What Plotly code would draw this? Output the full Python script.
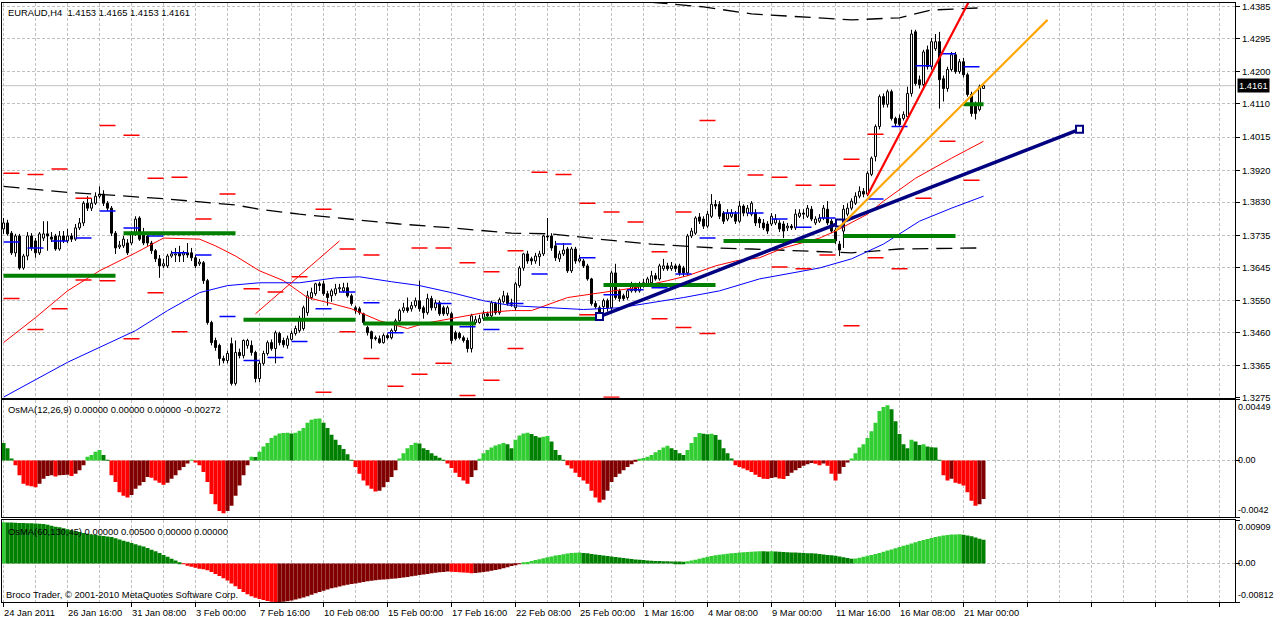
import plotly.graph_objects as go

# ---------------- price data (EURAUD H4), bar index 0 = 24 Jan 2011 00:00 ----------------
OPEN = [
1.3754,1.3771,1.3742,1.3686,1.3734,1.3643,1.3677,1.3734,1.3720,1.3686,
1.3728,1.3740,1.3731,1.3734,1.3697,1.3734,1.3720,1.3734,1.3725,1.3757,
1.3771,1.3827,1.3813,1.3827,1.3847,1.3853,1.3827,1.3813,1.3742,1.3703,
1.3706,1.3714,1.3714,1.3740,1.3785,1.3740,1.3734,1.3714,1.3692,1.3669,
1.3649,1.3649,1.3677,1.3680,1.3686,1.3680,1.3686,1.3686,1.3672,1.3655,
1.3658,1.3607,1.3488,1.3437,1.3423,1.3386,1.3380,1.3428,1.3315,1.3403,
1.3394,1.3423,1.3423,1.3403,1.3329,1.3372,1.3400,1.3431,1.3414,1.3457,
1.3437,1.3423,1.3440,1.3457,1.3465,1.3471,1.3516,1.3559,1.3570,1.3598,
1.3598,1.3570,1.3564,1.3570,1.3584,1.3578,1.3587,1.3564,1.3530,1.3527,
1.3513,1.3474,1.3462,1.3445,1.3442,1.3431,1.3451,1.3445,1.3465,1.3493,
1.3522,1.3530,1.3527,1.3536,1.3550,1.3530,1.3516,1.3556,1.3530,1.3544,
1.3530,1.3513,1.3513,1.3459,1.3457,1.3445,1.3437,1.3414,1.3488,1.3488,
1.3499,1.3513,1.3507,1.3542,1.3516,1.3547,1.3564,1.3544,1.3530,1.3593,
1.3643,1.3683,1.3669,1.3663,1.3675,1.3683,1.3734,1.3734,1.3706,1.3669,
1.3683,1.3697,1.3635,1.3697,1.3663,1.3663,1.3649,1.3612,1.3542,1.3530,
1.3533,1.3550,1.3530,1.3629,1.3578,1.3564,1.3559,1.3578,1.3593,1.3578,
1.3593,1.3598,1.3601,1.3621,1.3612,1.3641,1.3649,1.3641,1.3649,1.3649,
1.3643,1.3629,1.3734,1.3742,1.3788,1.3782,1.3762,1.3790,1.3824,1.3824,
1.3799,1.3782,1.3790,1.3796,1.3776,1.3819,1.3799,1.3796,1.3799,1.3782,
1.3771,1.3768,1.3768,1.3771,1.3771,1.3768,1.3757,1.3762,1.3757,1.3790,
1.3799,1.3790,1.3810,1.3771,1.3776,1.3785,1.3810,1.3776,1.3751,1.3711,
1.3748,1.3796,1.3813,1.3827,1.3847,1.3861,1.3853,1.3909,1.3960,1.4045,
1.4130,1.4108,1.4144,1.4068,1.4068,1.4068,1.4073,1.4139,1.4314,1.4178,
1.4164,1.4263,1.4215,1.4266,1.4286,1.4181,1.4153,1.4207,1.4249,1.4201,
1.4229,1.4192,1.4136,1.4108,1.4093,1.4153]
HIGH = [
1.3785,1.3780,1.3748,1.3740,1.3740,1.3683,1.3745,1.3742,1.3728,1.3745,
1.3776,1.3776,1.3745,1.3740,1.3748,1.3748,1.3754,1.3742,1.3768,1.3785,
1.3833,1.3847,1.3841,1.3858,1.3875,1.3864,1.3833,1.3819,1.3748,1.3720,
1.3734,1.3725,1.3748,1.3790,1.3790,1.3757,1.3740,1.3720,1.3697,1.3680,
1.3669,1.3683,1.3692,1.3700,1.3706,1.3692,1.3714,1.3700,1.3680,1.3669,
1.3663,1.3612,1.3493,1.3445,1.3428,1.3394,1.3408,1.3445,1.3437,1.3414,
1.3440,1.3442,1.3437,1.3408,1.3380,1.3408,1.3437,1.3440,1.3465,1.3462,
1.3445,1.3451,1.3465,1.3479,1.3507,1.3536,1.3578,1.3587,1.3601,1.3604,
1.3607,1.3578,1.3584,1.3598,1.3598,1.3601,1.3601,1.3570,1.3536,1.3533,
1.3516,1.3479,1.3465,1.3451,1.3451,1.3457,1.3457,1.3471,1.3499,1.3527,
1.3544,1.3559,1.3547,1.3559,1.3607,1.3536,1.3570,1.3564,1.3553,1.3550,
1.3536,1.3536,1.3519,1.3465,1.3462,1.3451,1.3445,1.3513,1.3507,1.3510,
1.3522,1.3519,1.3550,1.3547,1.3559,1.3578,1.3573,1.3556,1.3604,1.3649,
1.3686,1.3692,1.3675,1.3686,1.3692,1.3737,1.3785,1.3742,1.3720,1.3692,
1.3714,1.3703,1.3703,1.3703,1.3680,1.3669,1.3655,1.3615,1.3550,1.3536,
1.3556,1.3556,1.3635,1.3655,1.3584,1.3570,1.3584,1.3604,1.3601,1.3604,
1.3612,1.3618,1.3635,1.3629,1.3655,1.3669,1.3658,1.3660,1.3655,1.3655,
1.3649,1.3740,1.3757,1.3790,1.3799,1.3790,1.3805,1.3853,1.3836,1.3833,
1.3805,1.3810,1.3810,1.3805,1.3833,1.3824,1.3822,1.3833,1.3810,1.3788,
1.3782,1.3776,1.3799,1.3796,1.3779,1.3776,1.3771,1.3768,1.3810,1.3810,
1.3810,1.3822,1.3819,1.3790,1.3796,1.3822,1.3833,1.3782,1.3757,1.3720,
1.3822,1.3827,1.3841,1.3858,1.3875,1.3870,1.3918,1.3960,1.4051,1.4136,
1.4139,1.4150,1.4150,1.4073,1.4079,1.4088,1.4158,1.4320,1.4320,1.4190,
1.4263,1.4275,1.4297,1.4308,1.4314,1.4190,1.4215,1.4257,1.4257,1.4237,
1.4240,1.4198,1.4144,1.4116,1.4164,1.4165]
LOW = [
1.3740,1.3735,1.3680,1.3675,1.3638,1.3638,1.3665,1.3692,1.3672,1.3680,
1.3720,1.3692,1.3717,1.3692,1.3692,1.3714,1.3714,1.3717,1.3720,1.3751,
1.3762,1.3805,1.3805,1.3822,1.3841,1.3819,1.3805,1.3734,1.3683,1.3697,
1.3700,1.3680,1.3708,1.3734,1.3720,1.3708,1.3706,1.3683,1.3660,1.3615,
1.3643,1.3643,1.3672,1.3660,1.3660,1.3660,1.3672,1.3663,1.3643,1.3649,
1.3598,1.3482,1.3423,1.3408,1.3366,1.3372,1.3372,1.3309,1.3309,1.3386,
1.3386,1.3414,1.3394,1.3318,1.3318,1.3366,1.3394,1.3408,1.3372,1.3423,
1.3417,1.3414,1.3437,1.3451,1.3459,1.3465,1.3507,1.3553,1.3564,1.3578,
1.3564,1.3536,1.3547,1.3564,1.3573,1.3573,1.3559,1.3536,1.3513,1.3510,
1.3482,1.3451,1.3414,1.3437,1.3428,1.3428,1.3440,1.3440,1.3459,1.3488,
1.3516,1.3516,1.3519,1.3530,1.3519,1.3499,1.3510,1.3522,1.3522,1.3507,
1.3507,1.3507,1.3428,1.3437,1.3440,1.3431,1.3403,1.3403,1.3482,1.3485,
1.3493,1.3499,1.3502,1.3510,1.3510,1.3542,1.3536,1.3533,1.3522,1.3587,
1.3635,1.3655,1.3652,1.3655,1.3649,1.3677,1.3720,1.3692,1.3663,1.3660,
1.3677,1.3629,1.3629,1.3655,1.3658,1.3643,1.3607,1.3536,1.3527,1.3499,
1.3507,1.3519,1.3522,1.3553,1.3547,1.3550,1.3553,1.3573,1.3573,1.3573,
1.3587,1.3593,1.3596,1.3607,1.3607,1.3635,1.3635,1.3635,1.3632,1.3621,
1.3618,1.3621,1.3728,1.3737,1.3768,1.3754,1.3757,1.3785,1.3810,1.3782,
1.3768,1.3776,1.3785,1.3768,1.3771,1.3790,1.3790,1.3790,1.3762,1.3757,
1.3751,1.3740,1.3762,1.3765,1.3745,1.3728,1.3748,1.3751,1.3751,1.3785,
1.3782,1.3785,1.3776,1.3765,1.3771,1.3779,1.3765,1.3742,1.3711,1.3677,
1.3700,1.3790,1.3807,1.3822,1.3841,1.3844,1.3847,1.3904,1.3946,1.4037,
1.4099,1.4099,1.4062,1.4045,1.4045,1.4062,1.4068,1.4130,1.4161,1.4153,
1.4158,1.4207,1.4207,1.4260,1.4096,1.4116,1.4144,1.4201,1.4195,1.4195,
1.4184,1.4130,1.4073,1.4065,1.4088,1.4153]
CLOSE = [
1.3771,1.3740,1.3686,1.3734,1.3643,1.3677,1.3734,1.3700,1.3686,1.3740,
1.3740,1.3734,1.3725,1.3697,1.3734,1.3720,1.3734,1.3725,1.3757,1.3771,
1.3827,1.3813,1.3827,1.3847,1.3853,1.3827,1.3813,1.3742,1.3700,1.3708,
1.3725,1.3686,1.3740,1.3782,1.3725,1.3714,1.3714,1.3692,1.3669,1.3649,
1.3655,1.3677,1.3683,1.3683,1.3677,1.3686,1.3680,1.3672,1.3649,1.3660,
1.3607,1.3488,1.3431,1.3417,1.3386,1.3380,1.3400,1.3315,1.3403,1.3394,
1.3437,1.3437,1.3403,1.3329,1.3372,1.3400,1.3431,1.3414,1.3459,1.3431,
1.3425,1.3442,1.3457,1.3471,1.3499,1.3530,1.3564,1.3573,1.3598,1.3593,
1.3570,1.3559,1.3578,1.3584,1.3587,1.3587,1.3564,1.3542,1.3522,1.3516,
1.3488,1.3459,1.3442,1.3442,1.3431,1.3451,1.3445,1.3465,1.3493,1.3522,
1.3530,1.3522,1.3536,1.3550,1.3527,1.3516,1.3556,1.3530,1.3544,1.3513,
1.3513,1.3530,1.3437,1.3442,1.3445,1.3437,1.3414,1.3507,1.3496,1.3499,
1.3513,1.3507,1.3544,1.3516,1.3553,1.3564,1.3542,1.3540,1.3598,1.3643,
1.3683,1.3663,1.3663,1.3677,1.3683,1.3734,1.3731,1.3700,1.3672,1.3683,
1.3694,1.3635,1.3697,1.3663,1.3669,1.3649,1.3612,1.3542,1.3533,1.3507,
1.3550,1.3530,1.3629,1.3559,1.3556,1.3556,1.3578,1.3593,1.3578,1.3598,
1.3601,1.3612,1.3621,1.3612,1.3649,1.3649,1.3641,1.3649,1.3641,1.3629,
1.3629,1.3734,1.3748,1.3785,1.3776,1.3762,1.3796,1.3824,1.3819,1.3790,
1.3776,1.3799,1.3799,1.3776,1.3819,1.3799,1.3813,1.3827,1.3771,1.3771,
1.3757,1.3748,1.3790,1.3782,1.3754,1.3748,1.3762,1.3757,1.3796,1.3799,
1.3796,1.3813,1.3782,1.3782,1.3785,1.3813,1.3771,1.3748,1.3720,1.3694,
1.3810,1.3813,1.3833,1.3847,1.3861,1.3853,1.3912,1.3955,1.4045,1.4130,
1.4108,1.4144,1.4068,1.4054,1.4051,1.4079,1.4139,1.4308,1.4167,1.4164,
1.4257,1.4215,1.4286,1.4286,1.4178,1.4153,1.4207,1.4249,1.4201,1.4229,
1.4192,1.4136,1.4082,1.4082,1.4158,1.4161]

# ---------------- axis labels ----------------
DATE_TICK_BARS = [0, 16, 32, 48, 64, 80, 96, 112, 128, 144, 160, 176, 192, 208, 224, 240]
DATE_LABELS = ["24 Jan 2011", "26 Jan 16:00", "31 Jan 08:00", "3 Feb 00:00", "7 Feb 16:00",
               "10 Feb 08:00", "15 Feb 00:00", "17 Feb 16:00", "22 Feb 08:00", "25 Feb 00:00",
               "1 Mar 16:00", "4 Mar 08:00", "9 Mar 00:00", "11 Mar 16:00", "16 Mar 08:00",
               "21 Mar 00:00"]
PRICE_TICKS = [1.4385, 1.4295, 1.4200, 1.4110, 1.4015, 1.3920, 1.3830, 1.3735,
               1.3645, 1.3550, 1.3460, 1.3365, 1.3275]
LAST_PRICE = 1.4161

# ---------------- moving averages / envelope (read at sample bars) ----------------
RED_MA_BARS = [0, 8, 16, 24, 33, 40, 49, 53, 58, 64, 70, 76, 82, 87, 94, 101, 105, 112, 120,
               127, 132, 141, 149, 158, 166, 171, 178, 183, 189, 195, 204, 208, 216, 220, 228, 237, 245]
RED_MA = [1.3431, 1.3502, 1.3578, 1.3635, 1.3686, 1.3728, 1.3725, 1.3706, 1.3677, 1.3635,
          1.3607, 1.3559, 1.3542, 1.3527, 1.3493, 1.3471, 1.3485, 1.3499, 1.3516, 1.3522,
          1.3522, 1.3559, 1.3573, 1.3587, 1.3607, 1.3621, 1.3649, 1.3663, 1.3672, 1.3700,
          1.3728, 1.3748, 1.3796, 1.3833, 1.3898, 1.3955, 1.4003]
BLUE_MA_BARS = [0, 16, 33, 41, 49, 56, 64, 74, 83, 89, 97, 104, 112, 120, 127, 137, 145, 154,
                162, 170, 179, 189, 204, 212, 220, 229, 237, 245]
BLUE_MA = [1.3276, 1.3375, 1.3465, 1.3522, 1.3573, 1.3593, 1.3601, 1.3601, 1.3615, 1.3618,
           1.3604, 1.3593, 1.3573, 1.3550, 1.3536, 1.3530, 1.3525, 1.3530, 1.3544, 1.3559,
           1.3578, 1.3612, 1.3643, 1.3669, 1.3711, 1.3776, 1.3813, 1.3847]
ENV_LOW_BARS = [0, 16, 27, 41, 58, 64, 74, 87, 99, 112, 127, 137, 149, 162, 178, 187, 212, 224, 244]
ENV_LOW = [1.3875, 1.3858, 1.3850, 1.3839, 1.3822, 1.3810, 1.3796, 1.3782, 1.3768, 1.3757,
           1.3742, 1.3740, 1.3725, 1.3711, 1.3700, 1.3697, 1.3686, 1.3697, 1.3700]
ENV_HIGH_BARS = [162, 175, 187, 199, 212, 224, 232, 244]
ENV_HIGH = [1.4398, 1.4385, 1.4365, 1.4357, 1.4348, 1.4354, 1.4376, 1.4382]

# ---------------- daily pivot levels (one per trading day) ----------------
DAY_R = [1.3912, 1.3909, 1.3924, 1.3841, 1.4048, 1.4020, 1.3898, 1.3901, 1.3782, 1.3853,
         1.3584, 1.3575, 1.3618, 1.3810, 1.3697, 1.3680, None, 1.3700, 1.3700, 1.3658,
         1.3632, 1.3692, 1.3915, 1.3909, 1.3827, 1.3802, 1.3774, 1.3689, 1.3802, 1.4062,
         1.3932, 1.3907, 1.3901, 1.3878, 1.3878, 1.3952, 1.4023, None, None, None, None]
DAY_P = [1.3717, 1.3700, 1.3720, 1.3728, 1.3805, 1.3757, 1.3734, 1.3686, 1.3680, 1.3505,
         1.3380, 1.3389, 1.3434, 1.3527, 1.3575, 1.3544, 1.3459, None, 1.3542, 1.3476,
         1.3468, 1.3542, 1.3626, 1.3711, 1.3672, 1.3567, 1.3581, 1.3587, 1.3626, 1.3728,
         1.3799, 1.3799, 1.3782, 1.3759, 1.3785, None, 1.3839, 1.4045, 1.4218, 1.4252, 1.4215]
DAY_S = [1.3556, 1.3468, 1.3527, 1.3609, 1.3607, 1.3442, 1.3573, 1.3462, None, None,
         None, None, None, 1.3290, 1.3462, 1.3386, 1.3307, 1.3341, 1.3372, 1.3281,
         1.3324, 1.3414, None, None, 1.3510, 1.3276, None, 1.3499, 1.3474, 1.3457,
         None, None, 1.3646, 1.3641, 1.3680, 1.3479, 1.3672, 1.3641, 1.3841, 1.4003, 1.3892]
# ---------------- weekly levels ----------------
WEEK_LEVEL = [1.3621, 1.3742, 1.3496, 1.3485, 1.3499, 1.3595, 1.3720, 1.3734, 1.4108]

# ---------------- drawn trend lines (bar, price) ----------------
NAVY_BARS, NAVY_PRICES = [149, 209, 269], [1.3505, 1.3771, 1.4037]
ORANGE_BARS, ORANGE_PRICES = [208, 261], [1.3748, 1.4348]
REDTL_BARS, REDTL_PRICES = [216, 246], [1.3850, 1.4501]
THIN_BARS, THIN_PRICES = [63, 84], [1.3513, 1.3720]

# ---------------- OsMA(12,26,9) ----------------
OSMA_FAST_PREV = 0.0016
OSMA_FAST = [
0.00128,0.00090,0.00015,-0.00035,-0.00110,-0.00173,-0.00185,-0.00190,-0.00198,-0.00173,
-0.00135,-0.00115,-0.00110,-0.00118,-0.00110,-0.00108,-0.00105,-0.00115,-0.00098,-0.00073,
-0.00035,0.00028,0.00040,0.00065,0.00078,0.00040,0.00003,-0.00110,-0.00160,-0.00235,
-0.00260,-0.00273,-0.00255,-0.00210,-0.00185,-0.00160,-0.00123,-0.00128,-0.00148,-0.00165,
-0.00180,-0.00165,-0.00135,-0.00110,-0.00073,-0.00048,-0.00023,0.00005,-0.00015,-0.00035,
-0.00085,-0.00160,-0.00248,-0.00323,-0.00373,-0.00390,-0.00373,-0.00335,-0.00260,-0.00185,
-0.00110,-0.00035,0.00028,0.00025,0.00065,0.00103,0.00128,0.00165,0.00185,0.00200,
0.00203,0.00205,0.00200,0.00205,0.00220,0.00240,0.00278,0.00300,0.00308,0.00310,
0.00278,0.00240,0.00190,0.00153,0.00115,0.00085,0.00045,0.00005,-0.00048,-0.00098,
-0.00148,-0.00185,-0.00210,-0.00230,-0.00223,-0.00198,-0.00160,-0.00123,-0.00073,0.00015,
0.00053,0.00090,0.00115,0.00130,0.00125,0.00090,0.00078,0.00053,0.00035,0.00020,
0.00005,-0.00023,-0.00055,-0.00090,-0.00123,-0.00148,-0.00173,-0.00123,-0.00073,0.00010,
0.00053,0.00078,0.00095,0.00110,0.00120,0.00128,0.00120,0.00090,0.00153,0.00185,
0.00200,0.00205,0.00195,0.00180,0.00170,0.00175,0.00180,0.00140,0.00078,0.00040,
0.00005,-0.00035,-0.00060,-0.00090,-0.00123,-0.00148,-0.00173,-0.00223,-0.00273,-0.00310,
-0.00290,-0.00223,-0.00160,-0.00123,-0.00098,-0.00073,-0.00048,-0.00028,-0.00010,0.00010,
0.00018,0.00028,0.00040,0.00060,0.00078,0.00095,0.00108,0.00090,0.00078,0.00053,
0.00040,0.00078,0.00128,0.00173,0.00203,0.00198,0.00193,0.00198,0.00188,0.00153,
0.00090,0.00053,0.00015,-0.00035,-0.00048,-0.00060,-0.00073,-0.00085,-0.00105,-0.00123,
-0.00135,-0.00138,-0.00130,-0.00125,-0.00133,-0.00138,-0.00115,-0.00090,-0.00073,-0.00055,
-0.00040,-0.00028,-0.00018,-0.00025,-0.00035,-0.00023,-0.00040,-0.00098,-0.00148,-0.00098,
-0.00048,-0.00015,0.00015,0.00053,0.00095,0.00120,0.00165,0.00215,0.00278,0.00365,
0.00395,0.00408,0.00378,0.00290,0.00195,0.00120,0.00090,0.00153,0.00140,0.00115,
0.00120,0.00103,0.00098,0.00095,0.00003,-0.00110,-0.00148,-0.00135,-0.00165,-0.00173,
-0.00185,-0.00235,-0.00298,-0.00335,-0.00323,-0.00285]
OSMA_FAST_SCALE = [0.00449, 0.0, -0.0042]

# ---------------- OsMA(60,130,45) ----------------
OSMA_SLOW_PREV = 0.0085
OSMA_SLOW = [
0.00866,0.00863,0.00860,0.00857,0.00854,0.00851,0.00848,0.00845,0.00842,0.00838,
0.00830,0.00815,0.00795,0.00775,0.00760,0.00740,0.00720,0.00700,0.00680,0.00660,
0.00640,0.00625,0.00610,0.00598,0.00588,0.00578,0.00568,0.00555,0.00530,0.00505,
0.00480,0.00455,0.00430,0.00405,0.00380,0.00355,0.00325,0.00290,0.00255,0.00220,
0.00180,0.00140,0.00100,0.00060,0.00025,-0.00015,-0.00050,-0.00070,-0.00090,-0.00110,
-0.00125,-0.00145,-0.00180,-0.00220,-0.00265,-0.00310,-0.00360,-0.00420,-0.00480,-0.00540,
-0.00600,-0.00650,-0.00690,-0.00725,-0.00750,-0.00770,-0.00790,-0.00805,-0.00815,-0.00812,
-0.00808,-0.00795,-0.00780,-0.00760,-0.00740,-0.00715,-0.00690,-0.00660,-0.00630,-0.00600,
-0.00575,-0.00550,-0.00525,-0.00505,-0.00485,-0.00465,-0.00450,-0.00435,-0.00420,-0.00405,
-0.00390,-0.00375,-0.00365,-0.00355,-0.00345,-0.00338,-0.00332,-0.00325,-0.00315,-0.00305,
-0.00295,-0.00285,-0.00272,-0.00258,-0.00245,-0.00232,-0.00220,-0.00208,-0.00196,-0.00186,
-0.00178,-0.00170,-0.00175,-0.00180,-0.00186,-0.00192,-0.00198,-0.00205,-0.00200,-0.00192,
-0.00182,-0.00170,-0.00155,-0.00140,-0.00122,-0.00100,-0.00078,-0.00055,-0.00030,-0.00008,
0.00012,0.00030,0.00050,0.00070,0.00090,0.00110,0.00130,0.00148,0.00165,0.00180,
0.00195,0.00208,0.00218,0.00226,0.00232,0.00222,0.00212,0.00200,0.00188,0.00176,
0.00165,0.00155,0.00145,0.00135,0.00125,0.00115,0.00105,0.00095,0.00085,0.00078,
0.00070,0.00064,0.00058,0.00053,0.00050,0.00047,0.00045,0.00043,0.00041,0.00040,
0.00038,0.00045,0.00060,0.00080,0.00100,0.00120,0.00140,0.00158,0.00172,0.00185,
0.00195,0.00205,0.00215,0.00222,0.00230,0.00236,0.00242,0.00248,0.00252,0.00256,
0.00254,0.00253,0.00257,0.00250,0.00245,0.00240,0.00236,0.00232,0.00228,0.00224,
0.00220,0.00216,0.00212,0.00208,0.00200,0.00190,0.00180,0.00170,0.00160,0.00145,
0.00130,0.00115,0.00100,0.00105,0.00120,0.00140,0.00160,0.00180,0.00200,0.00220,
0.00245,0.00270,0.00295,0.00320,0.00345,0.00370,0.00395,0.00420,0.00445,0.00470,
0.00495,0.00515,0.00535,0.00555,0.00575,0.00590,0.00600,0.00607,0.00611,0.00614,
0.00605,0.00590,0.00570,0.00545,0.00520,0.00500]
OSMA_SLOW_SCALE = [0.00909, 0.0, -0.00812]

N = len(CLOSE)
assert len(OPEN) == N and len(HIGH) == N and len(LOW) == N
assert len(OSMA_FAST) == N and len(OSMA_SLOW) == N

# ---------------- styling constants ----------------
FONT = "Liberation Sans, Arial, sans-serif"
FS = 9.4
GRID = "#C0C0C0"
GDASH = "3px,2px"
LIME, DKGREEN, RED, MAROON = "#32CD32", "#008000", "#FF0000", "#800000"
DAY_BARS, DASH_BARS = 6, 4
WEEK_BARS, WEEK_LEN = 30, 28
X_RANGE = [-0.375, 307.875]
D1, D2, D3 = [0.3411, 1.0], [0.14143, 0.33777], [0.0, 0.13644]

idx = list(range(N))
fig = go.Figure()

# ---- candle wicks (outside the body) ----
wx, wy = [], []
for i in idx:
    top, bot = max(OPEN[i], CLOSE[i]), min(OPEN[i], CLOSE[i])
    wx += [i, i, None, i, i, None]
    wy += [HIGH[i], top, None, bot, LOW[i], None]
fig.add_trace(go.Scatter(x=wx, y=wy, mode="lines", line=dict(color="black", width=1),
                         hoverinfo="skip", xaxis="x", yaxis="y"))

# ---- candle bodies ----
for up in (True, False):
    sel = [i for i in idx if (CLOSE[i] >= OPEN[i]) == up]
    fig.add_trace(go.Bar(
        x=sel, y=[abs(CLOSE[i] - OPEN[i]) for i in sel],
        base=[min(OPEN[i], CLOSE[i]) for i in sel], width=0.5,
        marker=dict(color="white" if up else "black", line=dict(color="black", width=1)),
        xaxis="x", yaxis="y", hoverinfo="skip"))

def line(xs, ys, color, width, dash=None, axis=("x", "y"), mode="lines", marker=None):
    fig.add_trace(go.Scatter(x=xs, y=ys, mode=mode, line=dict(color=color, width=width, dash=dash),
                             marker=marker, xaxis=axis[0], yaxis=axis[1], hoverinfo="skip"))

# envelope / long MA (black dashed)
line(ENV_LOW_BARS, ENV_LOW, "black", 1.3, "16px,8px")
line(ENV_HIGH_BARS, ENV_HIGH, "black", 1.3, "16px,8px")
# moving averages
line(RED_MA_BARS, RED_MA, RED, 1)
line(BLUE_MA_BARS, BLUE_MA, "#0000FF", 1)

# daily levels
def day_dashes(levels):
    xs, ys = [], []
    for k, v in enumerate(levels):
        if v is None:
            continue
        s = DAY_BARS * k
        xs += [s, s + DASH_BARS, None]
        ys += [v, v, None]
    return xs, ys

rx, ry = day_dashes(DAY_R)
sx, sy = day_dashes(DAY_S)
line(rx + sx, ry + sy, RED, 1.5)
px_, py_ = day_dashes(DAY_P)
line(px_, py_, "#0000FF", 1.5)

# weekly levels
gx, gy = [], []
for w, v in enumerate(WEEK_LEVEL):
    s = WEEK_BARS * w
    e = min(s + WEEK_LEN, N - 1)
    gx += [s, e, None]
    gy += [v, v, None]
line(gx, gy, DKGREEN, 4)

# trend lines
line(THIN_BARS, THIN_PRICES, RED, 1)
line(NAVY_BARS, NAVY_PRICES, "#000080", 3.5, mode="lines+markers",
     marker=dict(symbol="square", size=7, color="white", line=dict(color="#000080", width=2)))
line(ORANGE_BARS, ORANGE_PRICES, "#FFA500", 2.2)
line(REDTL_BARS, REDTL_PRICES, RED, 2.2)

# ---- OsMA histograms ----
def osma_colors(vals, prev):
    cols = []
    for v in vals:
        if v >= 0:
            cols.append(LIME if v > prev else DKGREEN)
        else:
            cols.append(RED if v < prev else MAROON)
        prev = v
    return cols

fig.add_trace(go.Bar(x=idx, y=OSMA_FAST, width=1.0,
                     marker=dict(color=osma_colors(OSMA_FAST, OSMA_FAST_PREV), line=dict(width=0)),
                     xaxis="x2", yaxis="y2", hoverinfo="skip"))
fig.add_trace(go.Bar(x=idx, y=OSMA_SLOW, width=1.0,
                     marker=dict(color=osma_colors(OSMA_SLOW, OSMA_SLOW_PREV), line=dict(width=0)),
                     xaxis="x3", yaxis="y3", hoverinfo="skip"))

# ---- axes ----
xcommon = dict(range=X_RANGE, tickmode="linear", tick0=0, dtick=16, showgrid=True,
               gridcolor=GRID, griddash=GDASH, gridwidth=1,
               minor=dict(tick0=0, dtick=8, showgrid=True, gridcolor=GRID, griddash=GDASH, ticks=""),
               showline=True, mirror=True, linecolor="black", linewidth=1, zeroline=False,
               showticklabels=False, fixedrange=True)
ycommon = dict(side="right", showline=True, mirror=True, linecolor="black", linewidth=1,
               zeroline=False, showgrid=True, gridcolor=GRID, griddash=GDASH,
               ticks="outside", ticklen=4, tickcolor="black", fixedrange=True,
               ticklabeloverflow="allow",
               tickfont=dict(family=FONT, size=FS, color="black"))

fig.update_layout(
    width=1274, height=620, margin=dict(l=2, r=39, t=1, b=18),
    paper_bgcolor="white", plot_bgcolor="white", showlegend=False, barmode="overlay",
    font=dict(family=FONT, size=FS, color="black"),
    xaxis=dict(domain=[0, 1], anchor="y", ticks="", **xcommon),
    xaxis2=dict(domain=[0, 1], anchor="y2", ticks="", **xcommon),
    xaxis3=dict(domain=[0, 1], anchor="y3", ticks="outside", ticklen=4, tickcolor="black", **xcommon),
    yaxis=dict(domain=D1, anchor="x", range=[1.32745, 1.4396], tickmode="array",
               tickvals=PRICE_TICKS, ticktext=[f"{v:.4f}" for v in PRICE_TICKS], **ycommon),
    yaxis2=dict(domain=D2, anchor="x2", range=[OSMA_FAST_SCALE[2], OSMA_FAST_SCALE[0]],
                tickmode="array", tickvals=OSMA_FAST_SCALE, showticklabels=False, **ycommon),
    yaxis3=dict(domain=D3, anchor="x3", range=[OSMA_SLOW_SCALE[2], OSMA_SLOW_SCALE[0]],
                tickmode="array", tickvals=OSMA_SLOW_SCALE, showticklabels=False, **ycommon),
)

# current price line
fig.add_shape(type="line", xref="paper", x0=0, x1=1, yref="y", y0=LAST_PRICE, y1=LAST_PRICE,
              line=dict(color=GRID, width=1), layer="below")

ann = []
def text(s, **kw):
    d = dict(text=s, showarrow=False, font=dict(family=FONT, size=kw.pop("size", FS),
                                                color=kw.pop("color", "black")))
    d.update(kw)
    ann.append(d)

text(f"EURAUD,H4  {OPEN[-1]:.4f} {HIGH[-1]:.4f} {LOW[-1]:.4f} {CLOSE[-1]:.4f}",
     xref="paper", yref="paper", x=0.0032, y=0.9834, xanchor="left", yanchor="middle")
text("OsMA(12,26,9) 0.00000 0.00000 0.00000 -0.00272",
     xref="paper", yref="paper", x=0.0032, y=0.3211, xanchor="left", yanchor="middle")
text("OsMA(60,130,45) 0.00000 0.00500 0.00000 0.00000",
     xref="paper", yref="paper", x=0.0032, y=0.1181, xanchor="left", yanchor="middle")
text("Broco Trader, © 2001-2010 MetaQuotes Software Corp.",
     xref="paper", yref="paper", x=0.0016, y=0.0133, xanchor="left", yanchor="middle")
for b, lab in zip(DATE_TICK_BARS, DATE_LABELS):
    text(lab, xref="x3", yref="paper", x=b, y=-0.0183, xanchor="left", yanchor="middle", xshift=-2)

for axis, scale, labels in (("y2", OSMA_FAST_SCALE, ["0.00449", "0.00", "-0.0042"]),
                            ("y3", OSMA_SLOW_SCALE, ["0.00909", "0.00", "-0.00812"])):
    for v, lab, anc in zip(scale, labels, ["top", "middle", "bottom"]):
        text(lab, xref="paper", yref=axis, x=1, y=v, xanchor="left", yanchor=anc, xshift=1,
             size=9.0)

text(f"{LAST_PRICE:.4f}", xref="paper", yref="y", x=1, y=LAST_PRICE, xanchor="left",
     yanchor="middle", xshift=2, bgcolor="black", color="white", borderpad=1)

fig.update_layout(annotations=ann)
fig.write_html("out.html", config={"displayModeBar": False},
               post_script="document.body.style.margin='0';document.body.style.overflow='hidden';")
